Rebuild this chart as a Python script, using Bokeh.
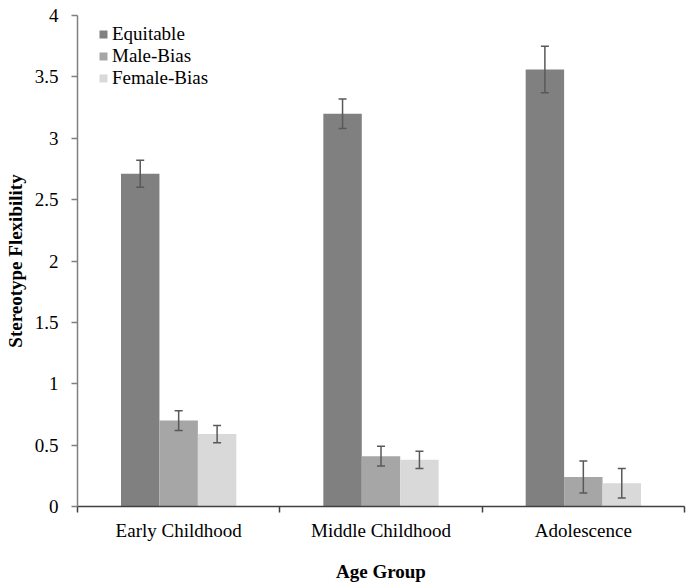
from bokeh.plotting import figure
from bokeh.models import (ColumnDataSource, Whisker, TeeHead, FixedTicker, Legend,
                          LegendItem, CustomJSTickFormatter, Range1d)
from bokeh.embed import file_html
from bokeh.resources import INLINE

categories = ["Early Childhood", "Middle Childhood", "Adolescence"]
series = ["Equitable", "Male-Bias", "Female-Bias"]
equitable = [2.71, 3.20, 3.56]
male_bias = [0.70, 0.41, 0.24]
female_bias = [0.59, 0.38, 0.19]
equitable_err = [0.11, 0.12, 0.19]
male_err = [0.08, 0.08, 0.13]
female_err = [0.07, 0.07, 0.12]
y_ticks = [0, 0.5, 1, 1.5, 2, 2.5, 3, 3.5, 4]
colors = ["#808080", "#a6a6a6", "#d9d9d9"]

FONT = "Liberation Serif"
FS = "19px"
bar_w = 0.19

p = figure(width=686, height=586, output_backend="svg", toolbar_location=None,
           x_range=Range1d(0, 3), y_range=Range1d(0, 4),
           min_border_left=77, min_border_right=2, min_border_top=15, min_border_bottom=80)
p.outline_line_color = None
p.xgrid.grid_line_color = None
p.ygrid.grid_line_color = None
p.background_fill_color = "white"

values = [equitable, male_bias, female_bias]
errs = [equitable_err, male_err, female_err]
items = []
whiskers = []
for j, (name, vals, err, col) in enumerate(zip(series, values, errs, colors)):
    xs = [i + 0.5 + (j - 1) * bar_w for i in range(len(categories))]
    src = ColumnDataSource(dict(x=xs, top=vals,
                                upper=[v + e for v, e in zip(vals, err)],
                                lower=[v - e for v, e in zip(vals, err)]))
    r = p.vbar(x="x", top="top", bottom=0, width=bar_w, source=src,
               fill_color=col, line_color=None)
    items.append(LegendItem(label=name, renderers=[r]))
    w = Whisker(base="x", upper="upper", lower="lower", source=src, dimension="height",
                line_color="#595959", line_width=1.5, level="annotation",
                upper_head=TeeHead(size=8, line_color="#595959", line_width=1.5),
                lower_head=TeeHead(size=8, line_color="#595959", line_width=1.5))
    whiskers.append(w)

for w in whiskers:
    p.add_layout(w)

legend = Legend(items=items, location=(21, 417), padding=0, margin=0, spacing=0,
                glyph_width=10, glyph_height=10, label_height=22, label_standoff=4,
                label_text_font=FONT, label_text_font_size=FS,
                label_text_color="black", border_line_color=None,
                background_fill_alpha=0)
p.add_layout(legend)

# y axis
p.yaxis.ticker = FixedTicker(ticks=y_ticks)
p.yaxis.formatter = CustomJSTickFormatter(code="return tick.toString()")
p.yaxis.major_tick_out = 6
p.yaxis.major_tick_in = 0
p.yaxis.minor_tick_out = 0
p.yaxis.minor_tick_in = 0
p.yaxis.axis_line_color = "#808080"
p.yaxis.axis_line_width = 1.5
p.yaxis.major_tick_line_color = "#808080"
p.yaxis.major_tick_line_width = 1.5
p.yaxis.major_label_standoff = 13
p.yaxis.major_label_text_font = FONT
p.yaxis.major_label_text_font_size = FS
p.yaxis.major_label_text_color = "black"
p.yaxis.axis_label = "Stereotype Flexibility"
p.yaxis.axis_label_text_font = FONT
p.yaxis.axis_label_text_font_size = FS
p.yaxis.axis_label_text_font_style = "bold"
p.yaxis.axis_label_text_color = "black"
p.yaxis.axis_label_standoff = 6

# x axis
p.xaxis.ticker = FixedTicker(ticks=[0.5, 1.5, 2.5], minor_ticks=[0, 1, 2, 3])
p.xaxis.formatter = CustomJSTickFormatter(args=dict(labels=categories),
                                          code="return labels[Math.floor(tick)]")
p.xaxis.major_tick_out = 0
p.xaxis.major_tick_in = 0
p.xaxis.minor_tick_out = 6
p.xaxis.minor_tick_in = 0
p.xaxis.minor_tick_line_color = "#404040"
p.xaxis.minor_tick_line_width = 1.5
p.xaxis.axis_line_color = "#404040"
p.xaxis.axis_line_width = 1.5
p.xaxis.major_label_standoff = 7
p.xaxis.major_label_text_font = FONT
p.xaxis.major_label_text_font_size = FS
p.xaxis.major_label_text_color = "black"
p.xaxis.axis_label = "Age Group"
p.xaxis.axis_label_text_font = FONT
p.xaxis.axis_label_text_font_size = FS
p.xaxis.axis_label_text_font_style = "bold"
p.xaxis.axis_label_text_color = "black"
p.xaxis.axis_label_standoff = 17

open("out.html", "w").write(file_html(p, INLINE))
